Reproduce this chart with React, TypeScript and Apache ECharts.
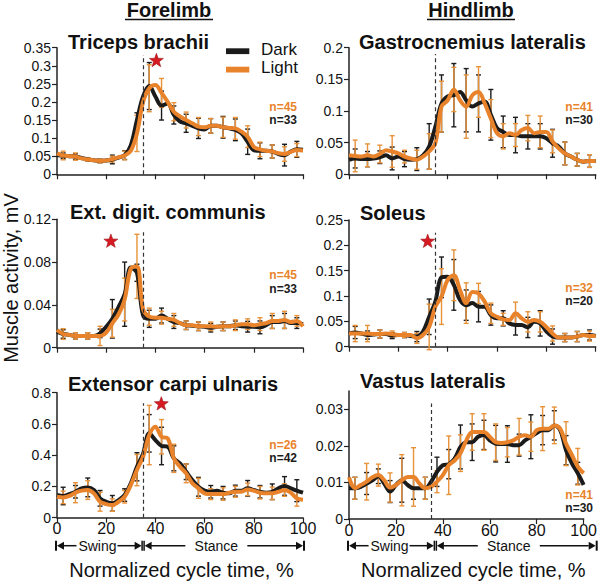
import React, { useEffect, useRef } from "react";
import * as echarts from "echarts";

// ---------- data ----------
const cyclePct = [0, 2.5, 5, 7.5, 10, 12.5, 15, 17.5, 20, 22.5, 25, 27.5, 30, 32.5, 35, 37.5, 40, 42.5, 45, 47.5, 50, 52.5, 55, 57.5, 60, 62.5, 65, 67.5, 70, 72.5, 75, 77.5, 80, 82.5, 85, 87.5, 90, 92.5, 95, 97.5, 100];
const errPct = [2.5, 7.5, 12.5, 17.5, 22.5, 27.5, 32.5, 37.5, 42.5, 47.5, 52.5, 57.5, 62.5, 67.5, 72.5, 77.5, 82.5, 87.5, 92.5, 97.5];
const xTicks = [0, 20, 40, 60, 80, 100];

const tricepsDark = [0.053, 0.051, 0.05, 0.049, 0.045, 0.041, 0.039, 0.037, 0.038, 0.041, 0.046, 0.053, 0.08, 0.15, 0.215, 0.244, 0.215, 0.19, 0.196, 0.164, 0.146, 0.141, 0.134, 0.127, 0.124, 0.134, 0.134, 0.13, 0.127, 0.123, 0.113, 0.09, 0.067, 0.065, 0.065, 0.063, 0.056, 0.053, 0.063, 0.069, 0.068];
const tricepsLight = [0.058, 0.052, 0.05, 0.049, 0.044, 0.041, 0.039, 0.037, 0.038, 0.042, 0.047, 0.052, 0.065, 0.113, 0.2, 0.238, 0.247, 0.225, 0.2, 0.173, 0.16, 0.15, 0.141, 0.132, 0.13, 0.134, 0.134, 0.13, 0.128, 0.127, 0.118, 0.104, 0.076, 0.069, 0.065, 0.063, 0.058, 0.056, 0.062, 0.067, 0.066];
const tricepsDarkErr = [0.008, 0.008, 0.005, 0.005, 0.012, 0.012, 0.02, 0.065, 0.04, 0.025, 0.025, 0.028, 0.02, 0.03, 0.03, 0.035, 0.022, 0.018, 0.03, 0.022];
const tricepsLightErr = [0.012, 0.01, 0.005, 0.005, 0.008, 0.012, 0.05, 0.065, 0.04, 0.025, 0.022, 0.025, 0.02, 0.028, 0.03, 0.03, 0.02, 0.018, 0.02, 0.018];

const gastroDark = [0.023, 0.025, 0.024, 0.024, 0.025, 0.027, 0.03, 0.025, 0.028, 0.024, 0.023, 0.024, 0.03, 0.044, 0.075, 0.112, 0.123, 0.125, 0.13, 0.117, 0.107, 0.112, 0.115, 0.094, 0.073, 0.067, 0.062, 0.062, 0.06, 0.06, 0.06, 0.06, 0.057, 0.049, 0.044, 0.033, 0.028, 0.023, 0.02, 0.021, 0.021];
const gastroLight = [0.03, 0.029, 0.028, 0.03, 0.028, 0.032, 0.038, 0.036, 0.033, 0.028, 0.025, 0.023, 0.028, 0.036, 0.049, 0.107, 0.117, 0.134, 0.117, 0.107, 0.125, 0.13, 0.112, 0.088, 0.065, 0.06, 0.065, 0.062, 0.07, 0.073, 0.065, 0.067, 0.067, 0.052, 0.041, 0.033, 0.028, 0.023, 0.02, 0.021, 0.021];
const gastroDarkErr = [0.015, 0.012, 0.01, 0.018, 0.012, 0.018, 0.036, 0.045, 0.05, 0.05, 0.045, 0.04, 0.025, 0.028, 0.02, 0.02, 0.022, 0.018, 0.01, 0.01];
const gastroLightErr = [0.025, 0.018, 0.014, 0.025, 0.01, 0.015, 0.028, 0.04, 0.035, 0.05, 0.04, 0.03, 0.02, 0.018, 0.02, 0.025, 0.018, 0.018, 0.01, 0.01];

const edcDark = [0.015, 0.0128, 0.012, 0.011, 0.011, 0.011, 0.011, 0.0134, 0.0196, 0.027, 0.038, 0.05, 0.075, 0.07, 0.03, 0.027, 0.027, 0.03, 0.027, 0.024, 0.023, 0.021, 0.0206, 0.02, 0.0196, 0.0187, 0.0196, 0.02, 0.02, 0.021, 0.02, 0.0196, 0.0196, 0.019, 0.021, 0.024, 0.024, 0.025, 0.023, 0.023, 0.022];
const edcLight = [0.0165, 0.0128, 0.012, 0.011, 0.011, 0.011, 0.011, 0.011, 0.014, 0.0228, 0.031, 0.045, 0.074, 0.076, 0.036, 0.029, 0.028, 0.028, 0.027, 0.026, 0.023, 0.021, 0.021, 0.02, 0.02, 0.02, 0.0196, 0.02, 0.02, 0.021, 0.022, 0.022, 0.021, 0.022, 0.023, 0.025, 0.025, 0.026, 0.024, 0.025, 0.02];
const edcDarkErr = [0.004, 0.003, 0.003, 0.004, 0.018, 0.03, 0.008, 0.008, 0.007, 0.006, 0.004, 0.004, 0.004, 0.004, 0.004, 0.005, 0.006, 0.006, 0.007, 0.005];
const edcLightErr = [0.005, 0.003, 0.003, 0.009, 0.013, 0.02, 0.03, 0.008, 0.006, 0.006, 0.004, 0.004, 0.004, 0.004, 0.005, 0.005, 0.006, 0.007, 0.008, 0.005];

const soleusDark = [0.026, 0.028, 0.026, 0.023, 0.024, 0.025, 0.025, 0.022, 0.023, 0.023, 0.021, 0.02, 0.03, 0.059, 0.089, 0.137, 0.138, 0.122, 0.092, 0.082, 0.086, 0.079, 0.079, 0.0625, 0.056, 0.056, 0.046, 0.043, 0.043, 0.038, 0.049, 0.046, 0.03, 0.02, 0.018, 0.018, 0.018, 0.02, 0.023, 0.023, 0.021];
const soleusLight = [0.026, 0.026, 0.026, 0.026, 0.025, 0.025, 0.026, 0.025, 0.023, 0.023, 0.023, 0.0165, 0.023, 0.039, 0.079, 0.099, 0.132, 0.141, 0.112, 0.086, 0.108, 0.105, 0.089, 0.066, 0.059, 0.054, 0.0526, 0.066, 0.056, 0.049, 0.0526, 0.049, 0.039, 0.026, 0.018, 0.018, 0.018, 0.02, 0.023, 0.021, 0.021];
const soleusDarkErr = [0.012, 0.008, 0.008, 0.006, 0.005, 0.01, 0.035, 0.04, 0.05, 0.03, 0.03, 0.02, 0.015, 0.02, 0.02, 0.025, 0.015, 0.008, 0.01, 0.01];
const soleusLightErr = [0.016, 0.016, 0.008, 0.006, 0.005, 0.01, 0.045, 0.055, 0.05, 0.04, 0.02, 0.02, 0.012, 0.022, 0.02, 0.02, 0.015, 0.008, 0.01, 0.01];

const ecuDark = [0.145, 0.139, 0.151, 0.166, 0.188, 0.194, 0.177, 0.124, 0.102, 0.092, 0.113, 0.145, 0.22, 0.326, 0.41, 0.54, 0.497, 0.459, 0.454, 0.38, 0.348, 0.294, 0.241, 0.198, 0.173, 0.166, 0.173, 0.16, 0.156, 0.173, 0.173, 0.188, 0.177, 0.166, 0.16, 0.166, 0.188, 0.203, 0.188, 0.173, 0.16];
const ecuLight = [0.134, 0.13, 0.139, 0.16, 0.173, 0.177, 0.156, 0.102, 0.087, 0.081, 0.102, 0.134, 0.209, 0.305, 0.39, 0.529, 0.582, 0.518, 0.508, 0.38, 0.326, 0.284, 0.22, 0.188, 0.156, 0.151, 0.151, 0.151, 0.16, 0.166, 0.166, 0.181, 0.173, 0.16, 0.156, 0.156, 0.166, 0.177, 0.16, 0.124, 0.115];
const ecuDarkErr = [0.056, 0.04, 0.06, 0.05, 0.05, 0.04, 0.09, 0.12, 0.12, 0.08, 0.05, 0.06, 0.04, 0.04, 0.035, 0.05, 0.04, 0.05, 0.06, 0.07];
const ecuLightErr = [0.04, 0.064, 0.06, 0.06, 0.04, 0.04, 0.1, 0.19, 0.11, 0.09, 0.06, 0.064, 0.035, 0.04, 0.035, 0.04, 0.04, 0.04, 0.04, 0.05];

const vastusDark = [0.0084, 0.0084, 0.0088, 0.0097, 0.0106, 0.0117, 0.0097, 0.0075, 0.0093, 0.0106, 0.0093, 0.0084, 0.0084, 0.0084, 0.0102, 0.0129, 0.0147, 0.015, 0.0165, 0.0197, 0.021, 0.021, 0.0225, 0.023, 0.0215, 0.0206, 0.0205, 0.0205, 0.0202, 0.0202, 0.0215, 0.0225, 0.0235, 0.0243, 0.0243, 0.0256, 0.0243, 0.0188, 0.0152, 0.0125, 0.0093];
const vastusLight = [0.0114, 0.0084, 0.0093, 0.0102, 0.0114, 0.012, 0.0106, 0.0086, 0.0093, 0.0106, 0.0115, 0.0115, 0.0097, 0.0084, 0.0088, 0.0102, 0.012, 0.0147, 0.016, 0.018, 0.0215, 0.0238, 0.0238, 0.0238, 0.0225, 0.021, 0.0208, 0.021, 0.0215, 0.0225, 0.0229, 0.0225, 0.0243, 0.0247, 0.0247, 0.0256, 0.0247, 0.0206, 0.0175, 0.0143, 0.0125];
const vastusDarkErr = [0.003, 0.003, 0.002, 0.003, 0.006, 0.003, 0.003, 0.004, 0.004, 0.006, 0.005, 0.004, 0.005, 0.005, 0.003, 0.006, 0.004, 0.004, 0.004, 0.003];
const vastusLightErr = [0.003, 0.005, 0.003, 0.004, 0.007, 0.008, 0.003, 0.003, 0.008, 0.005, 0.005, 0.005, 0.005, 0.004, 0.005, 0.004, 0.006, 0.005, 0.006, 0.005];

const nLight = ["n=45", "n=41", "n=45", "n=32", "n=26", "n=41"];
const nDark = ["n=33", "n=30", "n=33", "n=20", "n=42", "n=30"];
const muscleNames = ["Triceps brachii", "Gastrocnemius lateralis", "Ext. digit. communis", "Soleus", "Extensor carpi ulnaris", "Vastus lateralis"];
const swingStanceBoundary = 35;
// star markers (x %, y value) — null when no star
const starPoints: (number[] | null)[] = [[40.4, 0.316], null, [21.9, 0.1], [31.9, 0.209], [42.4, 0.732], null];

// ---------- styling / layout ----------
const DARK = "#1b1b1b";
const ORANGE = "#E8832B";
const ORANGE_BAR = "#E8923A";
const FONT = "'Liberation Sans', Arial, Helvetica, sans-serif";

type Panel = {
  dark: number[]; light: number[]; darkErr: number[]; lightErr: number[];
  grid: { left: number; top: number; width: number; height: number };
  yMax: number; yInterval: number; hideMax?: boolean; dashTop: number;
  title: { x: number; y: number }; nPos: { x: number; y1: number; y2: number };
  bottom: boolean;
};

const LX = 57, LW = 246, RX = 349, RW = 246.7;

const panels: Panel[] = [
  { dark: tricepsDark, light: tricepsLight, darkErr: tricepsDarkErr, lightErr: tricepsLightErr,
    grid: { left: LX, top: 47.7, width: LW, height: 126.6 }, yMax: 0.35, yInterval: 0.05, dashTop: 0.33,
    title: { x: 68, y: 42 }, nPos: { x: 297, y1: 107, y2: 120 }, bottom: false },
  { dark: gastroDark, light: gastroLight, darkErr: gastroDarkErr, lightErr: gastroLightErr,
    grid: { left: RX, top: 47.7, width: RW, height: 126.6 }, yMax: 0.2, yInterval: 0.05, dashTop: 0.19,
    title: { x: 359, y: 42 }, nPos: { x: 593, y1: 107, y2: 120 }, bottom: false },
  { dark: edcDark, light: edcLight, darkErr: edcDarkErr, lightErr: edcLightErr,
    grid: { left: LX, top: 219.3, width: LW, height: 128.4 }, yMax: 0.12, yInterval: 0.04, dashTop: 0.108,
    title: { x: 70, y: 212 }, nPos: { x: 297, y1: 275, y2: 289 }, bottom: false },
  { dark: soleusDark, light: soleusLight, darkErr: soleusDarkErr, lightErr: soleusLightErr,
    grid: { left: RX, top: 220, width: RW, height: 126.7 }, yMax: 0.25, yInterval: 0.05, dashTop: 0.225,
    title: { x: 360, y: 213 }, nPos: { x: 593, y1: 288, y2: 301 }, bottom: false },
  { dark: ecuDark, light: ecuLight, darkErr: ecuDarkErr, lightErr: ecuLightErr,
    grid: { left: LX, top: 392.7, width: LW, height: 125 }, yMax: 0.8, yInterval: 0.2, dashTop: 0.732,
    title: { x: 68, y: 384 }, nPos: { x: 297, y1: 444.5, y2: 457.5 }, bottom: true },
  { dark: vastusDark, light: vastusLight, darkErr: vastusDarkErr, lightErr: vastusLightErr,
    grid: { left: RX, top: 391, width: RW, height: 128 }, yMax: 0.035, yInterval: 0.01, hideMax: true, dashTop: 0.0316,
    title: { x: 360, y: 381 }, nPos: { x: 593, y1: 495, y2: 508 }, bottom: true },
];

const STAR = "path://M12 0.5 L14.88 8.54 L23.41 8.79 L16.66 14.01 L19.05 22.21 L12 17.4 L4.95 22.21 L7.34 14.01 L0.59 8.79 L9.12 8.54 Z";

function errRenderer(color: string) {
  return (_params: any, api: any) => {
    const x = api.value(0);
    const lo = api.coord([x, api.value(1)]);
    const hi = api.coord([x, api.value(2)]);
    const cap = 2.5;
    const style = { stroke: color, lineWidth: 1.4 };
    return {
      type: "group",
      children: [
        { type: "line", shape: { x1: lo[0], y1: lo[1], x2: hi[0], y2: hi[1] }, style },
        { type: "line", shape: { x1: lo[0] - cap, y1: lo[1], x2: lo[0] + cap, y2: lo[1] }, style },
        { type: "line", shape: { x1: hi[0] - cap, y1: hi[1], x2: hi[0] + cap, y2: hi[1] }, style },
      ],
    };
  };
}

function txt(x: number, y: number, text: string, size: number, opts: any = {}) {
  return {
    type: "text", x, y, rotation: opts.rotation || 0, silent: true,
    style: {
      text, fill: opts.color || "#111", fontSize: size, fontWeight: opts.bold ? "bold" : "normal",
      fontFamily: FONT, align: opts.align || "left", verticalAlign: "middle",
      lineHeight: opts.lineHeight || Math.round(size * 1.1),
    },
  };
}
function seg(x1: number, y1: number, x2: number, y2: number, w = 1.5) {
  return { type: "line", silent: true, shape: { x1, y1, x2, y2 }, style: { stroke: "#111", lineWidth: w } };
}
function tri(points: number[][]) {
  return { type: "polygon", silent: true, shape: { points }, style: { fill: "#111" } };
}

function phaseArrows(x0: number, x100: number, y: number) {
  const x35 = x0 + (x100 - x0) * (swingStanceBoundary / 100);
  const swingC = x0 + (x35 - x0) * 0.47;
  const stanceC = x35 + (x100 - x35) * 0.458;
  return [
    seg(x0 - 1, y - 5, x0 - 1, y + 5, 2),
    tri([[x0, y], [x0 + 7, y - 4], [x0 + 7, y + 4]]),
    seg(x0 + 6, y, swingC - 21, y),
    txt(swingC, y, "Swing", 14, { align: "center" }),
    seg(swingC + 20, y, x35 - 8, y),
    tri([[x35 - 1.5, y], [x35 - 8.5, y - 4], [x35 - 8.5, y + 4]]),
    seg(x35 - 1, y - 5, x35 - 1, y + 5, 1.5),
    seg(x35 + 1, y - 5, x35 + 1, y + 5, 1.5),
    tri([[x35 + 1.5, y], [x35 + 8.5, y - 4], [x35 + 8.5, y + 4]]),
    seg(x35 + 8, y, stanceC - 31, y),
    txt(stanceC, y, "Stance", 14, { align: "center" }),
    seg(stanceC + 31, y, x100 - 7, y),
    tri([[x100, y], [x100 - 7, y - 4], [x100 - 7, y + 4]]),
    seg(x100 + 1, y - 5, x100 + 1, y + 5, 2),
  ];
}

function buildOption() {
  const grid: any[] = [], xAxis: any[] = [], yAxis: any[] = [], series: any[] = [];
  const graphic: any[] = [];
  panels.forEach((p, i) => {
    grid.push({ ...p.grid, containLabel: false });
    xAxis.push({
      gridIndex: i, type: "value", min: 0, max: 100, interval: 20,
      axisLine: { show: true, lineStyle: { color: "#222", width: 1.5 } },
      axisTick: { show: true, length: 5, lineStyle: { color: "#222", width: 1.2 } },
      axisLabel: { show: p.bottom, fontSize: 16, color: "#111", margin: 3, fontFamily: FONT,
        customValues: xTicks },
      splitLine: { show: false },
    });
    yAxis.push({
      gridIndex: i, type: "value", min: 0, max: p.yMax, interval: p.yInterval,
      axisLine: { show: true, lineStyle: { color: "#222", width: 1.5 } },
      axisTick: { show: true, length: 5, lineStyle: { color: "#222", width: 1.2 } },
      axisLabel: { fontSize: 14, color: "#111", margin: 6, fontFamily: FONT, showMaxLabel: !p.hideMax },
      splitLine: { show: false },
    });
    const errData = (vals: number[], errs: number[]) =>
      errPct.map((x, k) => [x, vals[k * 2 + 1] - errs[k], vals[k * 2 + 1] + errs[k]]);
    series.push({
      type: "custom", xAxisIndex: i, yAxisIndex: i, silent: true, clip: false,
      encode: { x: 0, y: [1, 2] }, data: errData(p.dark, p.darkErr), renderItem: errRenderer(DARK),
    });
    series.push({
      type: "line", xAxisIndex: i, yAxisIndex: i, silent: true, smooth: 0.35, symbol: "none",
      lineStyle: { color: DARK, width: 4 }, data: cyclePct.map((x, k) => [x, p.dark[k]]),
      markLine: {
        silent: true, symbol: "none", label: { show: false },
        lineStyle: { type: [4, 3], color: "#333", width: 1.2 },
        data: [[{ coord: [swingStanceBoundary, 0] }, { coord: [swingStanceBoundary, p.dashTop] }]],
      },
    });
    series.push({
      type: "custom", xAxisIndex: i, yAxisIndex: i, silent: true, clip: false,
      encode: { x: 0, y: [1, 2] }, data: errData(p.light, p.lightErr), renderItem: errRenderer(ORANGE_BAR),
    });
    series.push({
      type: "line", xAxisIndex: i, yAxisIndex: i, silent: true, smooth: 0.35, symbol: "none",
      lineStyle: { color: ORANGE, width: 4 }, data: cyclePct.map((x, k) => [x, p.light[k]]),
    });
    const star = starPoints[i];
    if (star) {
      series.push({
        type: "scatter", xAxisIndex: i, yAxisIndex: i, silent: true, symbol: STAR, symbolKeepAspect: true,
        symbolSize: 14, itemStyle: { color: "#D61A22", borderColor: "#9E1519", borderWidth: 0.6, opacity: 1 },
        data: [star],
      });
    }
    graphic.push(txt(p.title.x, p.title.y, muscleNames[i], 20, { bold: true }));
    graphic.push(txt(p.nPos.x, p.nPos.y1, nLight[i], 12, { bold: true, color: ORANGE, align: "right", lineHeight: 12 }));
    graphic.push(txt(p.nPos.x, p.nPos.y2, nDark[i], 12, { bold: true, color: DARK, align: "right", lineHeight: 12 }));
  });

  // column headers
  graphic.push(txt(169, 10, "Forelimb", 20, { bold: true, align: "center", lineHeight: 19 }));
  graphic.push(seg(125, 19.5, 213, 19.5, 1.5));
  graphic.push(txt(471, 10, "Hindlimb", 20, { bold: true, align: "center", lineHeight: 19 }));
  graphic.push(seg(427, 19.5, 515, 19.5, 1.5));
  // legend
  graphic.push({ type: "rect", silent: true, shape: { x: 226, y: 48.3, width: 23.3, height: 5.8 }, style: { fill: DARK } });
  graphic.push({ type: "rect", silent: true, shape: { x: 226, y: 66.7, width: 23.3, height: 5.8 }, style: { fill: ORANGE } });
  graphic.push(txt(261, 49, "Dark", 17));
  graphic.push(txt(261, 67, "Light", 17));
  // axis titles
  graphic.push(txt(11, 278, "Muscle activity, mV", 20, { align: "center", rotation: Math.PI / 2 }));
  graphic.push(txt(LX + LW / 2 + 1.5, 570, "Normalized cycle time, %", 20, { align: "center" }));
  graphic.push(txt(RX + RW / 2 + 1, 570, "Normalized cycle time, %", 20, { align: "center" }));
  // swing / stance arrows
  graphic.push(...phaseArrows(LX, LX + LW, 545.7));
  graphic.push(...phaseArrows(RX, RX + RW, 545.7));

  return {
    animation: false,
    backgroundColor: "#ffffff",
    textStyle: { fontFamily: FONT },
    grid, xAxis, yAxis, series, graphic,
  };
}

export default function App() {
  const ref = useRef<HTMLDivElement>(null);
  useEffect(() => {
    if (!ref.current) return;
    const chart = echarts.init(ref.current, undefined, { renderer: "svg" });
    chart.setOption(buildOption() as any);
    return () => chart.dispose();
  }, []);
  return <div ref={ref} style={{ position: "absolute", left: 0, top: 0, width: 600, height: 583 }} />;
}
